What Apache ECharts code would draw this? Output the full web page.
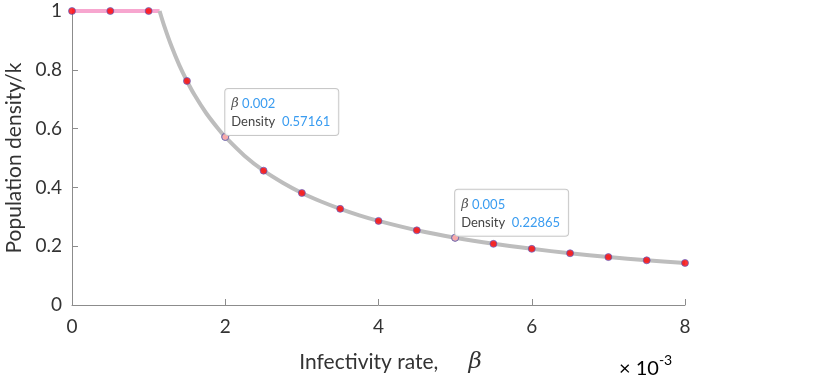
<!DOCTYPE html>
<html>
<head>
<meta charset="utf-8">
<script src="https://cdn.jsdelivr.net/npm/echarts@6/dist/echarts.min.js"></script>
<style>
  html, body { margin: 0; padding: 0; background: #fff; }
  #chart { width: 830px; height: 381px; }
</style>
</head>
<body>
<div id="chart"></div>
<script>
// x values are in units of 1e-3
const plateauX = [0, 1.143];
const plateauY = [1, 1];

const curveX = [1.143, 1.2, 1.3, 1.4, 1.5, 1.6, 1.75, 1.9, 2, 2.25, 2.5, 2.75, 3, 3.25, 3.5, 3.75, 4, 4.5, 5, 5.5, 6, 6.5, 7, 7.5, 8];
const curveY = [1, 0.952, 0.879, 0.816, 0.762, 0.714, 0.653, 0.602, 0.5716, 0.508, 0.457, 0.416, 0.381, 0.352, 0.327, 0.305, 0.286, 0.254, 0.2287, 0.208, 0.191, 0.176, 0.163, 0.152, 0.143];

const dotX = [0, 0.5, 1, 1.5, 2, 2.5, 3, 3.5, 4, 4.5, 5, 5.5, 6, 6.5, 7, 7.5, 8];
const dotY = [1, 1, 1, 0.762, 0.572, 0.457, 0.381, 0.327, 0.286, 0.254, 0.229, 0.208, 0.191, 0.176, 0.163, 0.152, 0.143];

const tipX = [2, 5];
const tipY = [0.57161, 0.22865];
const tipBeta = ['0.002', '0.005'];
const tipDensity = ['0.57161', '0.22865'];

const xTicks = [0, 2, 4, 6, 8];
const yTicks = [0, 0.2, 0.4, 0.6, 0.8, 1];

const font = 'Lato, "Open Sans", sans-serif';
const axisColor = '#8c8c8c';
const textColor = '#333';

const chart = echarts.init(document.getElementById('chart'));

const zip = (xs, ys) => xs.map((x, i) => [x, ys[i]]);

const option = {
    animation: false,
    grid: { left: 72, right: 145, top: 11, bottom: 76, outerBoundsMode: 'none', containLabel: false },
    xAxis: {
        type: 'value',
        min: 0, max: 8, interval: 2,
        name: '{n|Infectivity rate,}         {b|β}',
        nameLocation: 'middle',
        nameGap: 46,
        nameTextStyle: {
            padding: [0, 0, 0, 24],
            rich: {
                n: { fontFamily: font, fontSize: 21, color: textColor },
                b: { fontFamily: 'DejaVu Serif', fontStyle: 'italic', fontSize: 23, color: textColor }
            }
        },
        axisLine: { show: true, lineStyle: { color: axisColor, width: 1 } },
        axisTick: { show: true, inside: true, length: 6, lineStyle: { color: axisColor } },
        axisLabel: { fontFamily: font, fontSize: 19, color: textColor, margin: 12,
            formatter: v => xTicks.includes(v) ? String(v) : '' },
        splitLine: { show: false }
    },
    yAxis: {
        type: 'value',
        min: 0, max: 1, interval: 0.2,
        name: 'Population density/k',
        nameLocation: 'middle',
        nameGap: 44,
        nameTextStyle: { fontFamily: font, fontSize: 21, color: textColor },
        axisLine: { show: true, lineStyle: { color: axisColor, width: 1 } },
        axisTick: { show: true, inside: true, length: 6, lineStyle: { color: axisColor } },
        axisLabel: { fontFamily: font, fontSize: 19, color: textColor, margin: 10,
            formatter: v => yTicks.some(t => Math.abs(t - v) < 1e-9) ? String(+v.toFixed(1)) : '' },
        splitLine: { show: false }
    },
    graphic: [{
        type: 'text',
        left: 619, top: 353,
        style: {
            text: '{a|× 10}{s|-3}',
            rich: {
                a: { fontFamily: font, fontSize: 20, color: textColor, verticalAlign: 'bottom' },
                s: { fontFamily: font, fontSize: 14, color: textColor, verticalAlign: 'top', padding: [0, 0, 12, 0] }
            }
        }
    }],
    series: [
        {
            type: 'line',
            data: zip(plateauX, plateauY),
            showSymbol: false,
            lineStyle: { color: '#f7a6cf', width: 4 },
            z: 2
        },
        {
            type: 'line',
            data: zip(curveX, curveY),
            showSymbol: false,
            smooth: 0.3,
            lineStyle: { color: '#bdbdbd', width: 4 },
            z: 2,
            markPoint: {
                symbol: 'circle',
                symbolSize: 7,
                itemStyle: { color: 'rgba(255,255,255,0.6)', borderColor: '#7a6ea8', borderWidth: 1 },
                label: {
                    show: true,
                    position: [4, -44],
                    backgroundColor: 'rgba(255,255,255,0.9)',
                    borderColor: '#c8c8c8',
                    borderWidth: 1,
                    borderRadius: 3,
                    padding: [6, 8, 4, 6],
                    lineHeight: 18,
                    formatter: p => '{b|β} {v|' + tipBeta[p.dataIndex] + '}\n{k|Density}  {v|' + tipDensity[p.dataIndex] + '}',
                    rich: {
                        b: { fontFamily: 'DejaVu Serif', fontStyle: 'italic', fontSize: 13, color: '#555' },
                        v: { fontFamily: font, fontSize: 13, color: '#3a9cf0' },
                        k: { fontFamily: font, fontSize: 13, color: '#444' }
                    }
                },
                data: tipX.map((x, i) => ({ coord: [x, tipY[i]] }))
            }
        },
        {
            type: 'scatter',
            data: zip(dotX, dotY),
            symbol: 'circle',
            symbolSize: 7,
            itemStyle: { color: '#ff0000', borderColor: '#4a5fd0', borderWidth: 0.8 },
            z: 3
        }
    ]
};

chart.setOption(option);
</script>
</body>
</html>
